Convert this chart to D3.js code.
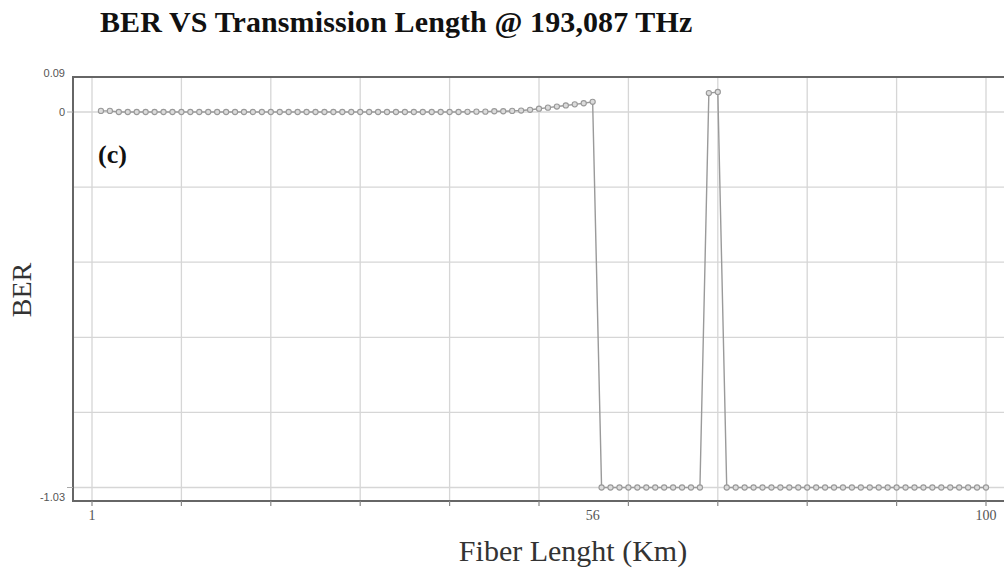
<!DOCTYPE html>
<html><head><meta charset="utf-8">
<script src="https://cdn.jsdelivr.net/npm/d3@7"></script>
<style>body{margin:0;background:#fff}svg{display:block}</style>
</head><body>
<svg id="chart" width="1004" height="569"></svg>
<script>
// ---- data ----
const fiberLength = d3.range(1, 101); // km 1..100
const berValues = [
  0.003, 0.003, 0, 0, 0, 0, 0, 0, 0, 0,
  0, 0, 0, 0, 0, 0, 0, 0, 0, 0,
  0, 0, 0, 0, 0, 0, 0, 0, 0, 0,
  0, 0, 0, 0, 0, 0, 0, 0, 0, 0,
  0, 0.0005, 0.001, 0.001, 0.002, 0.002, 0.003, 0.004, 0.006, 0.009,
  0.012, 0.015, 0.018, 0.021, 0.024, 0.028, -1.03, -1.03, -1.03, -1.03,
  -1.03, -1.03, -1.03, -1.03, -1.03, -1.03, -1.03, -1.03, 0.052, 0.055,
  -1.03, -1.03, -1.03, -1.03, -1.03, -1.03, -1.03, -1.03, -1.03, -1.03,
  -1.03, -1.03, -1.03, -1.03, -1.03, -1.03, -1.03, -1.03, -1.03, -1.03,
  -1.03, -1.03, -1.03, -1.03, -1.03, -1.03, -1.03, -1.03, -1.03, -1.03
];
const xTickValues = [0, 56, 100];
const xTickLabels = ["1", "56", "100"];
const xGridValues = d3.range(0, 101, 10);
const yTickValues = [0.09, 0, -1.03];
const yTickLabels = ["0.09", "0", "-1.03"];
const yGridValues = [0, -0.206, -0.412, -0.618, -0.824, -1.03];

// ---- layout ----
const svg = d3.select("#chart");
const frame = {left: 73, top: 77, right: 1010, bottom: 501};
const x = d3.scaleLinear().domain([0, 100]).range([92, 986]);
const y = d3.scaleLinear().domain([-1.03, 0]).range([487.5, 112]);

// gridlines
svg.append("g").selectAll("line").data(xGridValues).join("line")
  .attr("x1", d => x(d)).attr("x2", d => x(d))
  .attr("y1", frame.top).attr("y2", frame.bottom)
  .attr("stroke", "#d6d6d6").attr("stroke-width", 1.3);
svg.append("g").selectAll("line").data(yGridValues).join("line")
  .attr("x1", frame.left).attr("x2", frame.right)
  .attr("y1", d => y(d)).attr("y2", d => y(d))
  .attr("stroke", "#d6d6d6").attr("stroke-width", 1.3);

// frame (top, left, bottom)
svg.append("path")
  .attr("d", `M${frame.right},${frame.top}H${frame.left}V${frame.bottom}H${frame.right}`)
  .attr("fill", "none").attr("stroke", "#666").attr("stroke-width", 2);

// x ticks
svg.append("g").selectAll("line").data(xGridValues).join("line")
  .attr("x1", d => x(d)).attr("x2", d => x(d))
  .attr("y1", frame.bottom).attr("y2", frame.bottom + 5)
  .attr("stroke", "#888").attr("stroke-width", 1.2);
svg.append("g").selectAll("text").data(xTickValues).join("text")
  .attr("x", d => x(d)).attr("y", 520)
  .attr("text-anchor", "middle")
  .attr("font-family", "Liberation Serif, serif").attr("font-size", 14)
  .attr("fill", "#555")
  .text((d, i) => xTickLabels[i]);

// y ticks
svg.append("g").selectAll("line").data([0, -1.03]).join("line")
  .attr("x1", frame.left - 6).attr("x2", frame.left)
  .attr("y1", d => y(d)).attr("y2", d => y(d))
  .attr("stroke", "#aaa").attr("stroke-width", 1);
const yLabelDy = [-2, 4, 13];
svg.append("g").selectAll("text").data(yTickValues).join("text")
  .attr("x", 65).attr("y", (d, i) => y(d) + yLabelDy[i])
  .attr("text-anchor", "end")
  .attr("font-family", "Liberation Sans, sans-serif").attr("font-size", 11)
  .attr("fill", "#555")
  .text((d, i) => yTickLabels[i]);

// data line
const pts = fiberLength.map((k, i) => [k, berValues[i]]);
svg.append("path").datum(pts)
  .attr("fill", "none").attr("stroke", "#9a9a9a").attr("stroke-width", 1.4)
  .attr("d", d3.line().x(d => x(d[0])).y(d => y(d[1])));
svg.append("g").selectAll("circle").data(pts).join("circle")
  .attr("cx", d => x(d[0])).attr("cy", d => y(d[1])).attr("r", 2.6)
  .attr("fill", "#dcdcdc").attr("stroke", "#999").attr("stroke-width", 1.1);

// texts
svg.append("text").attr("x", 100).attr("y", 32)
  .attr("font-family", "Liberation Serif, serif").attr("font-weight", "bold")
  .attr("font-size", 30).attr("letter-spacing", 0.1).attr("fill", "#111")
  .text("BER VS Transmission Length @ 193,087 THz");
svg.append("text").attr("x", 98).attr("y", 163)
  .attr("font-family", "Liberation Serif, serif").attr("font-weight", "bold")
  .attr("font-size", 26).attr("fill", "#111")
  .text("(c)");
svg.append("text").attr("transform", "translate(31,290) rotate(-90)")
  .attr("text-anchor", "middle")
  .attr("font-family", "Liberation Serif, serif").attr("font-size", 28).attr("fill", "#333")
  .text("BER");
svg.append("text").attr("x", 573).attr("y", 561)
  .attr("text-anchor", "middle")
  .attr("font-family", "Liberation Serif, serif").attr("font-size", 30).attr("fill", "#333")
  .text("Fiber Lenght (Km)");
</script>
</body></html>
